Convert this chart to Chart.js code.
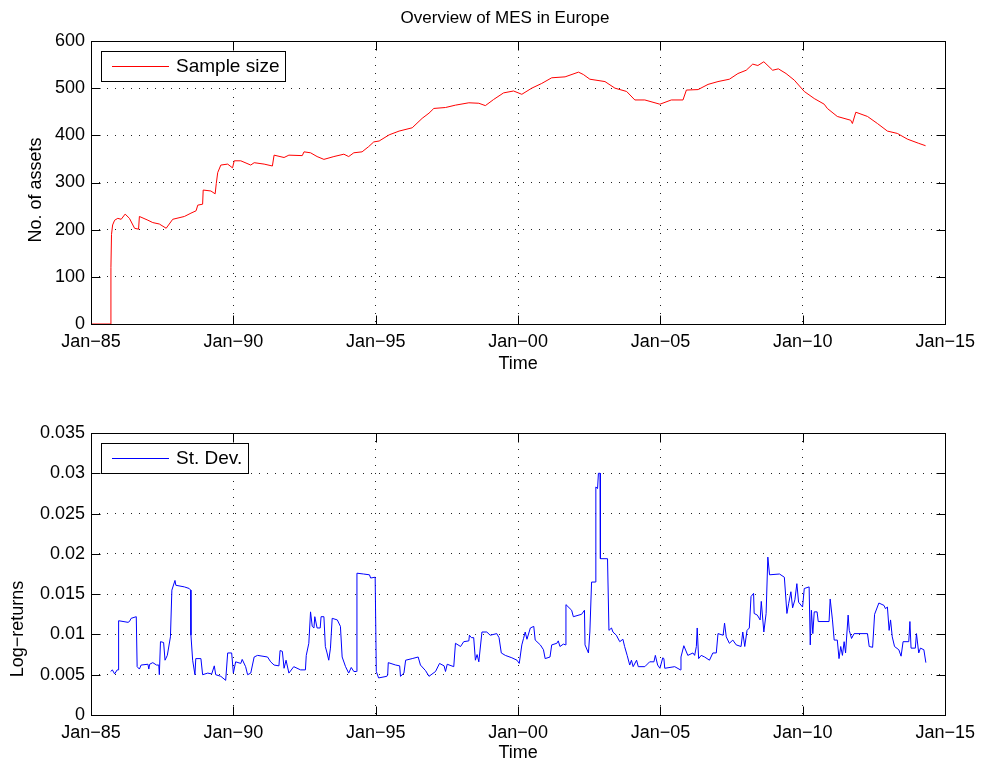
<!DOCTYPE html>
<html>
<head>
<meta charset="utf-8">
<title>Overview of MES in Europe</title>
<script src="https://cdn.jsdelivr.net/npm/chart.js@4"></script>
<style>
  html, body { margin: 0; padding: 0; background: #fff; }
  #wrap { position: relative; width: 982px; height: 765px; }
  canvas { position: absolute; left: 0; }
</style>
</head>
<body>
<div id="wrap">
  <canvas id="sample-size" width="982" height="392" style="top:0"></canvas>
  <canvas id="st-dev" width="982" height="373" style="top:392px"></canvas>
</div>
<script>
// x axis: decimal years, ticks every 5 years labelled Jan-85 ... Jan-15
const yearTicks = [1985, 1990, 1995, 2000, 2005, 2010, 2015];

// top panel: number of assets in the sample
const sizeYears = [
  1985.00, 1985.69, 1985.70, 1985.72, 1985.76, 1985.83, 1985.94, 1986.06, 1986.20, 1986.35,
  1986.53, 1986.67, 1986.70, 1987.00, 1987.17, 1987.40, 1987.64, 1987.87, 1988.28, 1988.51,
  1988.69, 1988.75, 1988.92, 1988.94, 1989.21, 1989.36, 1989.40, 1989.45, 1989.56, 1989.80,
  1989.97, 1990.03, 1990.26, 1990.61, 1990.73, 1991.08, 1991.37, 1991.43, 1991.78, 1991.95,
  1992.42, 1992.48, 1992.71, 1992.94, 1993.18, 1993.53, 1993.88, 1994.05, 1994.23, 1994.52,
  1994.75, 1994.93, 1995.12, 1995.47, 1995.82, 1996.28, 1996.63, 1996.87, 1997.04, 1997.45,
  1997.80, 1998.27, 1998.62, 1998.85, 1999.14, 1999.49, 1999.84, 2000.13, 2000.48, 2000.83,
  2001.18, 2001.65, 2002.12, 2002.29, 2002.52, 2003.05, 2003.40, 2003.81, 2004.10, 2004.45,
  2004.98, 2005.38, 2005.79, 2005.91, 2006.32, 2006.67, 2007.02, 2007.42, 2007.72, 2008.01,
  2008.24, 2008.42, 2008.63, 2008.94, 2009.14, 2009.41, 2009.70, 2010.05, 2010.40, 2010.75,
  2010.86, 2011.21, 2011.68, 2011.74, 2011.86, 2012.27, 2012.62, 2012.97, 2013.32, 2013.67,
  2014.07, 2014.31
];
const sizeCount = [
  0, 0, 120, 190, 210, 220, 224, 222, 233, 224,
  203, 201, 228, 220, 215, 212, 203, 222, 228, 235,
  240, 252, 254, 284, 282, 276, 298, 321, 337, 339,
  331, 346, 346, 337, 342, 339, 335, 358, 353, 358,
  357, 365, 363, 355, 349, 355, 360, 355, 363, 365,
  376, 386, 388, 401, 409, 416, 436, 447, 457, 459,
  464, 469, 468, 463, 476, 490, 494, 487, 500, 510,
  522, 524, 534, 529, 519, 514, 500, 493, 475, 475,
  466, 475, 475, 496, 497, 508, 514, 519, 531, 538,
  551, 548, 556, 538, 541, 531, 517, 493, 478, 466,
  457, 440, 432, 425, 449, 440, 425, 409, 404, 392,
  383, 378
];

// bottom panel: cross-sectional standard deviation of log-returns
const sdYears = [
  1985.69, 1985.75, 1985.83, 1985.92, 1985.96, 1985.97, 1986.30, 1986.35, 1986.41, 1986.59,
  1986.61, 1986.62, 1986.70, 1986.76, 1987.00, 1987.03, 1987.06, 1987.17, 1987.30, 1987.38,
  1987.40, 1987.44, 1987.55, 1987.60, 1987.68, 1987.79, 1987.84, 1987.95, 1987.98, 1988.28,
  1988.45, 1988.50, 1988.51, 1988.57, 1988.65, 1988.68, 1988.86, 1988.92, 1989.10, 1989.24,
  1989.33, 1989.38, 1989.56, 1989.73, 1989.80, 1989.94, 1990.00, 1990.08, 1990.26, 1990.31,
  1990.43, 1990.50, 1990.61, 1990.73, 1990.85, 1991.20, 1991.31, 1991.43, 1991.60, 1991.64,
  1991.72, 1991.78, 1991.85, 1991.95, 1992.12, 1992.36, 1992.53, 1992.56, 1992.65, 1992.71,
  1992.77, 1992.83, 1992.86, 1992.94, 1993.05, 1993.08, 1993.18, 1993.23, 1993.29, 1993.35,
  1993.41, 1993.47, 1993.65, 1993.76, 1993.82, 1993.94, 1994.05, 1994.14, 1994.23, 1994.32,
  1994.34, 1994.57, 1994.78, 1994.82, 1994.98, 1995.02, 1995.10, 1995.39, 1995.42, 1995.44,
  1995.70, 1995.84, 1995.87, 1995.99, 1996.05, 1996.28, 1996.49, 1996.57, 1996.75, 1996.87,
  1997.10, 1997.24, 1997.40, 1997.45, 1997.51, 1997.74, 1997.80, 1997.98, 1998.09, 1998.27,
  1998.29, 1998.36, 1998.44, 1998.50, 1998.56, 1998.62, 1998.73, 1998.90, 1999.02, 1999.25,
  1999.33, 1999.41, 1999.55, 1999.78, 1999.96, 2000.04, 2000.13, 2000.19, 2000.25, 2000.31,
  2000.43, 2000.55, 2000.60, 2000.78, 2000.89, 2000.95, 2001.12, 2001.18, 2001.36, 2001.41,
  2001.47, 2001.59, 2001.67, 2001.68, 2001.88, 2001.94, 2002.23, 2002.33, 2002.35, 2002.47,
  2002.52, 2002.58, 2002.72, 2002.73, 2002.79, 2002.82, 2002.88, 2002.89, 2003.14, 2003.19,
  2003.28, 2003.33, 2003.45, 2003.57, 2003.68, 2003.74, 2003.83, 2003.92, 2003.98, 2004.04,
  2004.16, 2004.22, 2004.45, 2004.62, 2004.77, 2004.82, 2004.90, 2004.98, 2005.08, 2005.12,
  2005.15, 2005.50, 2005.70, 2005.72, 2005.82, 2005.96, 2006.14, 2006.20, 2006.26, 2006.29,
  2006.34, 2006.43, 2006.55, 2006.72, 2006.84, 2006.96, 2007.02, 2007.20, 2007.25, 2007.31,
  2007.42, 2007.54, 2007.66, 2007.83, 2007.89, 2007.96, 2008.04, 2008.12, 2008.18, 2008.27,
  2008.29, 2008.40, 2008.50, 2008.54, 2008.63, 2008.71, 2008.77, 2008.83, 2009.18, 2009.35,
  2009.44, 2009.50, 2009.58, 2009.64, 2009.72, 2009.79, 2009.85, 2009.99, 2010.05, 2010.22,
  2010.26, 2010.30, 2010.35, 2010.40, 2010.50, 2010.54, 2010.92, 2010.96, 2011.04, 2011.10,
  2011.21, 2011.27, 2011.33, 2011.39, 2011.45, 2011.50, 2011.59, 2011.63, 2011.71, 2011.80,
  2012.27, 2012.33, 2012.45, 2012.52, 2012.67, 2012.85, 2012.90, 2012.97, 2013.03, 2013.08,
  2013.14, 2013.22, 2013.37, 2013.45, 2013.52, 2013.72, 2013.76, 2013.80, 2013.95, 2013.99,
  2014.07, 2014.13, 2014.25, 2014.32
];
const sdValues = [
  0.0054, 0.0056, 0.0051, 0.0056, 0.0056, 0.0117, 0.0115, 0.0116, 0.0120, 0.0122,
  0.0122, 0.0060, 0.0057, 0.0062, 0.0063, 0.0057, 0.0063, 0.0065, 0.0062, 0.0062,
  0.0050, 0.0091, 0.0090, 0.0068, 0.0074, 0.0097, 0.0155, 0.0167, 0.0161, 0.0159,
  0.0157, 0.0155, 0.0099, 0.0068, 0.0050, 0.0070, 0.0070, 0.0050, 0.0052, 0.0051,
  0.0061, 0.0050, 0.0048, 0.0043, 0.0077, 0.0077, 0.0052, 0.0066, 0.0064, 0.0069,
  0.0060, 0.0050, 0.0052, 0.0072, 0.0074, 0.0072, 0.0066, 0.0062, 0.0061, 0.0080,
  0.0079, 0.0058, 0.0068, 0.0052, 0.0060, 0.0056, 0.0056, 0.0074, 0.0089, 0.0128,
  0.0110, 0.0108, 0.0122, 0.0108, 0.0108, 0.0122, 0.0122, 0.0085, 0.0077, 0.0068,
  0.0083, 0.0120, 0.0118, 0.0110, 0.0072, 0.0060, 0.0052, 0.0059, 0.0054, 0.0054,
  0.0176, 0.0175, 0.0174, 0.0170, 0.0171, 0.0054, 0.0046, 0.0048, 0.0050, 0.0065,
  0.0062, 0.0061, 0.0048, 0.0052, 0.0068, 0.0070, 0.0072, 0.0062, 0.0055, 0.0048,
  0.0054, 0.0064, 0.0061, 0.0054, 0.0063, 0.0060, 0.0089, 0.0085, 0.0091, 0.0092,
  0.0099, 0.0096, 0.0096, 0.0068, 0.0075, 0.0066, 0.0103, 0.0103, 0.0099, 0.0101,
  0.0096, 0.0077, 0.0074, 0.0071, 0.0068, 0.0064, 0.0087, 0.0095, 0.0103, 0.0094,
  0.0108, 0.0110, 0.0093, 0.0087, 0.0081, 0.0070, 0.0072, 0.0087, 0.0089, 0.0092,
  0.0085, 0.0088, 0.0087, 0.0137, 0.0130, 0.0122, 0.0125, 0.0130, 0.0087, 0.0077,
  0.0103, 0.0165, 0.0165, 0.0283, 0.0281, 0.0300, 0.0300, 0.0194, 0.0194, 0.0105,
  0.0108, 0.0103, 0.0099, 0.0091, 0.0094, 0.0085, 0.0074, 0.0062, 0.0068, 0.0060,
  0.0068, 0.0060, 0.0060, 0.0066, 0.0066, 0.0074, 0.0062, 0.0058, 0.0071, 0.0070,
  0.0058, 0.0060, 0.0056, 0.0072, 0.0086, 0.0074, 0.0077, 0.0074, 0.0085, 0.0108,
  0.0070, 0.0074, 0.0072, 0.0068, 0.0077, 0.0077, 0.0101, 0.0099, 0.0114, 0.0097,
  0.0089, 0.0093, 0.0087, 0.0085, 0.0103, 0.0085, 0.0105, 0.0108, 0.0147, 0.0151,
  0.0126, 0.0124, 0.0118, 0.0141, 0.0103, 0.0126, 0.0196, 0.0174, 0.0175, 0.0171,
  0.0126, 0.0138, 0.0153, 0.0133, 0.0143, 0.0163, 0.0140, 0.0134, 0.0157, 0.0159,
  0.0087, 0.0130, 0.0101, 0.0128, 0.0128, 0.0116, 0.0116, 0.0144, 0.0118, 0.0093,
  0.0093, 0.0070, 0.0085, 0.0074, 0.0091, 0.0077, 0.0124, 0.0105, 0.0095, 0.0101,
  0.0101, 0.0085, 0.0084, 0.0125, 0.0139, 0.0136, 0.0132, 0.0134, 0.0105, 0.0118,
  0.0097, 0.0085, 0.0081, 0.0073, 0.0091, 0.0091, 0.0116, 0.0083, 0.0083, 0.0101,
  0.0077, 0.0083, 0.0081, 0.0065
];

const FONT = '"Liberation Sans", Arial, Helvetica, sans-serif';
const tickFont = { family: FONT, size: 18 };
const labelFont = { family: FONT, size: 18 };

function toPoints(xs, ys) {
  return xs.map((x, i) => ({ x: x, y: ys[i] }));
}

function yearLabel(v) {
  return 'Jan\u2212' + String(v % 100).padStart(2, '0');
}

// box round the plot with matlab-like inward ticks
const frame = {
  id: 'frame',
  afterDraw(chart) {
    const { ctx, chartArea: a, scales } = chart;
    const L = Math.round(a.left) + 0.5, R = Math.round(a.right) + 0.5;
    const T = Math.round(a.top) + 0.5, B = Math.round(a.bottom) + 0.5;
    ctx.save();
    ctx.strokeStyle = '#000';
    ctx.lineWidth = 1;
    ctx.beginPath();
    scales.x.ticks.forEach(t => {
      const px = Math.round(scales.x.getPixelForValue(t.value)) + 0.5;
      ctx.moveTo(px, B); ctx.lineTo(px, B - 9);
      ctx.moveTo(px, T); ctx.lineTo(px, T + 9);
    });
    scales.y.ticks.forEach(t => {
      const py = Math.round(scales.y.getPixelForValue(t.value)) + 0.5;
      ctx.moveTo(L, py); ctx.lineTo(L + 9, py);
      ctx.moveTo(R, py); ctx.lineTo(R - 9, py);
    });
    ctx.stroke();
    ctx.strokeRect(L, T, R - L, B - T);
    ctx.restore();
  }
};

// legend inside the upper left corner, like the matlab one
const boxLegend = {
  id: 'boxLegend',
  afterDraw(chart) {
    const { ctx, chartArea: a } = chart;
    const ds = chart.data.datasets[0];
    ctx.save();
    ctx.font = '19px ' + FONT;
    const x0 = Math.round(a.left) + 10, y0 = Math.round(a.top) + 10;
    const w = Math.round(75 + ctx.measureText(ds.label).width + 6), h = 30;
    ctx.fillStyle = '#fff';
    ctx.fillRect(x0, y0, w, h);
    ctx.strokeStyle = '#000';
    ctx.lineWidth = 1;
    ctx.strokeRect(x0 + 0.5, y0 + 0.5, w, h);
    ctx.strokeStyle = ds.borderColor;
    ctx.beginPath();
    ctx.moveTo(x0 + 11, y0 + 15.5);
    ctx.lineTo(x0 + 68, y0 + 15.5);
    ctx.stroke();
    ctx.fillStyle = '#000';
    ctx.textBaseline = 'middle';
    ctx.fillText(ds.label, x0 + 75, y0 + 16);
    ctx.restore();
  }
};

// title and rotated y label, placed where the matlab figure has them
const texts = {
  id: 'texts',
  afterDraw(chart, args, opts) {
    const { ctx } = chart;
    ctx.save();
    ctx.fillStyle = '#000';
    ctx.textAlign = 'center';
    ctx.textBaseline = 'middle';
    if (opts.title) {
      ctx.font = '17px ' + FONT;
      ctx.fillText(opts.title, 505, 18);
    }
    ctx.font = '18px ' + FONT;
    ctx.translate(opts.yLabelX, opts.yLabelY);
    ctx.rotate(-Math.PI / 2);
    ctx.fillText(opts.yLabel, 0, 0);
    ctx.restore();
  }
};

function xScale(height, titleBottom) {
  return {
    type: 'linear',
    min: 1985,
    max: 2015,
    afterFit: s => { s.height = height; },
    afterBuildTicks: s => { s.ticks = yearTicks.map(v => ({ value: v })); },
    ticks: { callback: yearLabel, font: tickFont, color: '#000', padding: 7, maxRotation: 0, autoSkip: false },
    grid: { color: '#222', lineWidth: 1, drawTicks: false },
    border: { display: false, dash: [1, 7] },
    title: { display: true, text: 'Time', font: labelFont, color: '#000', padding: { top: 0, bottom: titleBottom } }
  };
}

function yScale(min, max, step, fmt) {
  return {
    min: min,
    max: max,
    afterFit: s => { s.width = 91; },
    ticks: { stepSize: step, callback: fmt, font: tickFont, color: '#000', padding: 6 },
    grid: { color: '#222', lineWidth: 1, drawTicks: false },
    border: { display: false, dash: [1, 7] }
  };
}

const graficoTamanho = document.querySelector('#sample-size').getContext('2d');
const graficoDesvio = document.querySelector('#st-dev').getContext('2d');

new Chart(graficoTamanho, {
  type: 'line',
  data: {
    datasets: [
      {
        label: 'Sample size',
        borderColor: '#ff0000',
        borderWidth: 1,
        pointRadius: 0,
        tension: 0,
        data: toPoints(sizeYears, sizeCount)
      }
    ]
  },
  options: {
    responsive: false,
    animation: false,
    layout: { padding: { top: 41, right: 35, left: 0, bottom: 0 } },
    plugins: {
      legend: { display: false },
      tooltip: { enabled: false },
      texts: { title: 'Overview of MES in Europe', yLabel: 'No. of assets', yLabelX: 36, yLabelY: 190 }
    },
    scales: {
      x: xScale(68, 17),
      y: yScale(0, 600, 100, v => String(v))
    }
  },
  plugins: [frame, boxLegend, texts]
});

new Chart(graficoDesvio, {
  type: 'line',
  data: {
    datasets: [
      {
        label: 'St. Dev.',
        borderColor: '#0000ff',
        borderWidth: 1,
        pointRadius: 0,
        tension: 0,
        data: toPoints(sdYears, sdValues)
      }
    ]
  },
  options: {
    responsive: false,
    animation: false,
    layout: { padding: { top: 41, right: 35, left: 0, bottom: 0 } },
    plugins: {
      legend: { display: false },
      tooltip: { enabled: false },
      texts: { title: '', yLabel: 'Log\u2212returns', yLabelX: 18, yLabelY: 629 - 392 }
    },
    scales: {
      x: xScale(50, 1),
      y: yScale(0, 0.035, 0.005, v => String(+v.toFixed(3)))
    }
  },
  plugins: [frame, boxLegend, texts]
});
</script>
</body>
</html>
